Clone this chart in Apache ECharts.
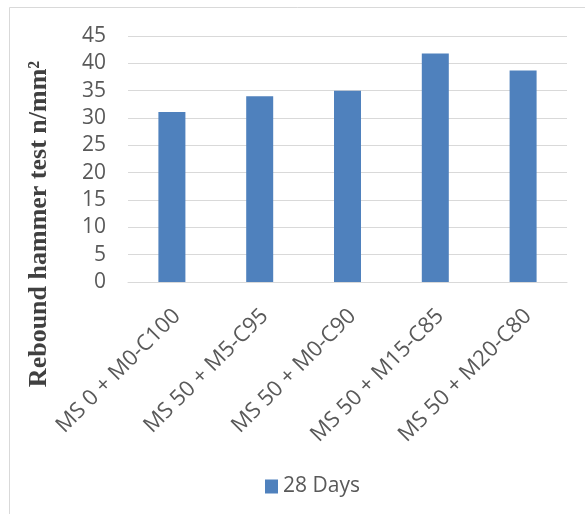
<!DOCTYPE html>
<html>
<head>
<meta charset="utf-8">
<script src="https://cdn.jsdelivr.net/npm/echarts@6/dist/echarts.min.js"></script>
<style>
html,body{margin:0;padding:0;background:#fff;}
#chart{width:585px;height:514px;}
</style>
</head>
<body>
<div id="chart"></div>
<script>
const categories = ['MS 0 + M0-C100', 'MS 50 + M5-C95', 'MS 50 + M0-C90', 'MS 50 + M15-C85', 'MS 50 + M20-C80'];
const seriesName = '28 Days';
const values28 = [31.1, 34.0, 35.0, 41.8, 38.7];
const yTitle = 'Rebound hammer test n/mm²';

const chart = echarts.init(document.getElementById('chart'), null, {renderer: 'canvas'});
chart.setOption({
  animation: false,
  backgroundColor: '#fff',
  grid: {left: 128, right: 18, top: 36, bottom: 232, containLabel: false},
  legend: {
    data: [seriesName],
    left: 260, top: 471,
    itemWidth: 13, itemHeight: 14, itemGap: 10,
    icon: 'rect',
    textStyle: {fontFamily: 'Open Sans', fontSize: 21, color: '#595959'}
  },
  xAxis: {
    type: 'category',
    data: categories,
    axisTick: {show: false},
    axisLine: {lineStyle: {color: '#d9d9d9', width: 1}},
    axisLabel: {
      rotate: 45, interval: 0, margin: 20,
      align: 'right', verticalAlign: 'top',
      padding: [0, 4, 0, 0],
      fontFamily: 'Open Sans', fontSize: 22, color: '#595959'
    }
  },
  yAxis: {
    type: 'value', min: 0, max: 45, interval: 5,
    axisLine: {show: false}, axisTick: {show: false},
    splitLine: {lineStyle: {color: '#d9d9d9', width: 1}},
    axisLabel: {margin: 22, fontFamily: 'Open Sans', fontSize: 21, color: '#595959'}
  },
  series: [{
    name: seriesName,
    type: 'bar',
    data: values28,
    barWidth: 27,
    itemStyle: {color: '#4F81BD'}
  }],
  graphic: [
    {type: 'line', shape: {x1: 9.5, y1: 7.5, x2: 585, y2: 7.5}, style: {stroke: '#d9d9d9', lineWidth: 1}},
    {type: 'line', shape: {x1: 9.5, y1: 7.5, x2: 9.5, y2: 514}, style: {stroke: '#d9d9d9', lineWidth: 1}},
    {
      type: 'text', x: 39, y: 224, rotation: Math.PI / 2,
      style: {
        text: yTitle, fontFamily: 'Liberation Serif', fontWeight: 'bold', fontSize: 26,
        fill: '#404040', align: 'center', verticalAlign: 'middle'
      }
    }
  ]
});
</script>
</body>
</html>
